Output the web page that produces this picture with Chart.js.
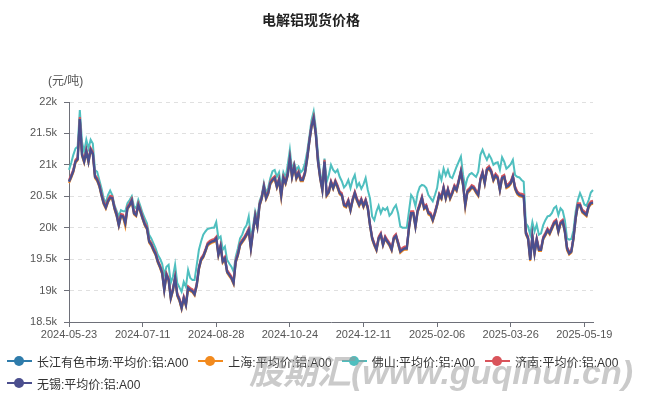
<!DOCTYPE html>
<html>
<head>
<meta charset="utf-8">
<script src="https://cdn.jsdelivr.net/npm/chart.js@4.4.1/dist/chart.umd.min.js"></script>
<style>
    body { margin: 0; background: #fff; }
    #wrap { position: relative; width: 648px; height: 398px; font-family: Arial, "Liberation Sans", "Noto Sans CJK SC", sans-serif; }
    #chart { position: absolute; left: 0; top: 0; }
    #title { position: absolute; left: 0; top: 9px; width: 622px; text-align: center; font-size: 14px; font-weight: bold; color: #222; }
    #unit { position: absolute; left: 48px; top: 71px; font-size: 12px; color: #555; }
    #legend { position: absolute; left: 7px; top: 354px; width: 636px; display: flex; flex-wrap: wrap; row-gap: 8px; }
    .item { display: flex; align-items: center; height: 14px; margin-right: 10px; font-size: 12px; color: #333; white-space: nowrap; }
    .mark { position: relative; width: 25px; height: 14px; margin-right: 5px; }
    .mark .ln { position: absolute; left: 0; top: 6px; width: 25px; height: 2px; }
    .mark .dot { position: absolute; left: 7px; top: 2px; width: 10px; height: 10px; border-radius: 50%; }
    #mark { position: absolute; left: 249px; top: 345px; font-size: 34px; font-weight: bold; font-style: italic; color: rgba(150, 150, 150, 0.5); white-space: nowrap; }
</style>
</head>
<body>
<div id="wrap">
    <canvas id="chart" width="648" height="398"></canvas>
    <div id="title">电解铝现货价格</div>
    <div id="unit">(元/吨)</div>
    <div id="legend"></div>
    <div id="mark">股期汇(www.guqihui.cn)</div>
</div>
<script>
//trading days shown on the category axis
const startDate = '2024-05-23';
const endDate = '2025-05-23';
const holidays = ['2024-06-10', '2024-09-16', '2024-09-17',
    '2024-10-01', '2024-10-02', '2024-10-03', '2024-10-04', '2024-10-07',
    '2025-01-01', '2025-01-28', '2025-01-29', '2025-01-30', '2025-01-31', '2025-02-03', '2025-02-04',
    '2025-04-04', '2025-05-01', '2025-05-02', '2025-05-05'];
const labelStep = 34;

const yMin = 18500;
const yMax = 22000;
const yStep = 500;

const seriesNames = ['长江有色市场:平均价:铝:A00', '上海:平均价:铝:A00', '佛山:平均价:铝:A00', '济南:平均价:铝:A00', '无锡:平均价:铝:A00'];
const seriesColors = ['#2f7cab', '#f28a1e', '#4fbfbf', '#d9545b', '#4b4f8e'];

const changjiang = [
    20740,20820,20910,21060,21100,21740,21170,21060,21230,21060,
    21250,21190,20820,20770,20680,20530,20400,20330,20430,20490,
    20480,20320,20210,20050,20200,20190,20080,20320,20370,20440,
    20240,20210,20370,20270,20160,20060,20000,19790,19740,19660,
    19590,19470,19390,19290,19020,19260,19180,18890,19020,19210,
    18940,18860,18730,18890,18780,19050,19020,19000,18950,19100,
    19360,19500,19550,19640,19740,19770,19790,19800,19840,19580,
    19710,19470,19520,19310,19260,19210,19130,19470,19580,19740,
    19790,19840,19900,19970,19680,19950,20190,20030,20370,20480,
    20660,20480,20560,20720,20770,20800,20660,20770,20520,20800,
    20720,20850,21110,20820,20980,20800,20880,20770,20770,20880,
    21110,21380,21620,21750,21490,21060,20800,20610,21060,20530,
    20580,20730,20640,20740,20660,20560,20530,20370,20350,20430,
    20290,20450,20560,20450,20370,20450,20350,20440,20320,20050,
    19840,19740,19660,19840,19900,19740,19850,19790,19740,19660,
    19840,19880,19760,19630,19660,19680,19680,20000,20240,20240,
    20030,20270,20370,20480,20320,20350,20240,20220,20130,20240,
    20370,20530,20480,20640,20480,20610,20480,20560,20660,20610,
    20750,20900,20690,20370,20580,20610,20660,20640,20580,20530,
    20770,20880,20720,20930,20960,20900,20770,20840,20800,20610,
    20800,20820,20660,20680,20720,20820,20640,20560,20530,20520,
    20510,19920,19840,19500,19870,19600,19820,19660,19660,19840,
    19900,19970,19920,20000,20080,20110,19950,20080,20110,19950,
    19680,19600,19630,19840,20160,20370,20370,20270,20240,20210,
    20350,20400,20410];

const shanghai = [
    20710,20790,20880,21030,21070,21710,21140,21030,21200,21030,
    21220,21160,20790,20740,20650,20500,20370,20300,20400,20460,
    20450,20290,20180,20020,20170,20160,20020,20290,20340,20410,
    20210,20180,20340,20240,20130,20030,19970,19760,19710,19630,
    19560,19440,19360,19260,18990,19230,19150,18860,18990,19180,
    18910,18830,18700,18860,18750,19020,18990,18970,18920,19070,
    19330,19470,19520,19610,19710,19740,19760,19770,19810,19550,
    19680,19440,19490,19280,19230,19180,19100,19440,19550,19710,
    19760,19810,19870,19940,19650,19920,20160,20000,20340,20450,
    20630,20450,20530,20690,20740,20770,20630,20740,20470,20770,
    20690,20820,21080,20790,20950,20770,20850,20740,20740,20850,
    21080,21350,21590,21720,21460,21030,20770,20580,21030,20500,
    20550,20700,20610,20710,20630,20530,20500,20340,20320,20400,
    20260,20420,20530,20420,20340,20420,20320,20410,20290,20020,
    19810,19710,19630,19810,19870,19710,19820,19760,19710,19630,
    19810,19850,19730,19600,19630,19650,19650,19970,20210,20210,
    20000,20240,20340,20450,20290,20320,20210,20190,20100,20210,
    20340,20500,20450,20610,20450,20580,20450,20530,20630,20580,
    20720,20870,20660,20320,20550,20580,20630,20610,20550,20500,
    20740,20850,20690,20900,20930,20870,20740,20810,20770,20580,
    20770,20790,20630,20650,20690,20790,20610,20530,20500,20490,
    20480,19890,19810,19470,19840,19570,19790,19630,19630,19810,
    19870,19940,19890,19970,20050,20080,19920,20050,20080,19920,
    19640,19570,19600,19810,20130,20340,20340,20240,20210,20180,
    20320,20370,20380];

const foshan = [
    20920,21030,21160,21260,21290,21870,21370,21210,21400,21260,
    21400,21340,20920,20890,20760,20630,20470,20390,20520,20590,
    20520,20360,20270,20180,20280,20260,20260,20390,20440,20500,
    20340,20310,20440,20340,20230,20150,20070,19890,19830,19750,
    19670,19570,19510,19430,19250,19380,19410,19120,19220,19410,
    19120,19050,18980,19140,19060,19330,19200,19170,19170,19410,
    19650,19780,19890,19940,19980,19990,20000,20000,20090,19830,
    19860,19650,19700,19490,19430,19380,19300,19540,19670,19830,
    19890,19990,20040,20180,19830,20020,20260,20150,20420,20520,
    20710,20550,20640,20790,20900,20920,20810,20880,20650,20880,
    20790,21000,21240,20920,21030,20920,20970,20880,20920,21030,
    21210,21450,21710,21850,21580,21160,20870,20710,21100,20730,
    20840,21000,20920,20880,20920,20810,20740,20640,20680,20760,
    20630,20760,20840,20650,20710,20620,20690,20790,20600,20470,
    20180,20120,20260,20350,20230,20310,20280,20320,20190,20230,
    20310,20360,20230,20020,20000,20000,20000,20260,20520,20470,
    20340,20550,20650,20680,20670,20630,20520,20470,20420,20520,
    20630,20870,20760,20940,20830,20920,20810,20790,20880,20970,
    21050,21130,20840,20650,20790,20850,20870,20840,20810,20890,
    21160,21240,21150,21080,21160,21100,21000,21030,21040,20920,
    21120,21050,20940,20970,21010,21080,20840,20810,20800,20760,
    20730,20070,20020,19890,20090,19940,20050,19890,19910,20040,
    20120,20180,20190,20230,20310,20340,20200,20310,20270,20120,
    19830,19810,19820,19960,20260,20440,20550,20470,20370,20350,
    20440,20560,20600];

const jinan = [
    20760,20840,20930,21080,21120,21760,21190,21080,21250,21080,
    21270,21210,20840,20790,20700,20550,20420,20350,20450,20510,
    20500,20340,20230,20070,20220,20210,20100,20340,20390,20460,
    20260,20230,20390,20290,20180,20080,20020,19810,19760,19680,
    19610,19490,19410,19310,19040,19280,19200,18910,19040,19230,
    18960,18880,18750,18910,18800,19070,19040,19020,18970,19120,
    19380,19520,19570,19660,19760,19790,19810,19820,19860,19600,
    19730,19490,19540,19330,19280,19230,19150,19490,19600,19760,
    19810,19860,19920,19990,19700,19970,20210,20050,20390,20500,
    20680,20500,20580,20740,20790,20820,20680,20790,20540,20820,
    20740,20870,21130,20840,21000,20820,20900,20790,20790,20900,
    21130,21400,21640,21770,21510,21080,20820,20630,21080,20550,
    20600,20750,20660,20760,20680,20580,20550,20390,20370,20450,
    20310,20470,20580,20470,20390,20470,20370,20460,20340,20070,
    19860,19760,19680,19860,19920,19760,19870,19810,19760,19680,
    19860,19900,19780,19650,19680,19700,19700,20020,20260,20260,
    20050,20290,20390,20500,20340,20370,20260,20240,20150,20260,
    20390,20550,20500,20660,20500,20630,20500,20580,20680,20630,
    20770,20920,20710,20390,20600,20630,20680,20660,20600,20550,
    20790,20900,20740,20950,20980,20920,20790,20860,20820,20630,
    20820,20840,20680,20700,20740,20840,20660,20580,20550,20540,
    20530,19940,19860,19520,19890,19620,19840,19680,19680,19860,
    19920,19990,19940,20020,20100,20130,19970,20100,20130,19970,
    19700,19620,19650,19860,20180,20390,20390,20290,20260,20230,
    20370,20420,20430];

const wuxi = [
    20730,20810,20900,21050,21090,21730,21160,21050,21220,21050,
    21240,21180,20810,20760,20670,20520,20390,20320,20420,20480,
    20470,20310,20200,20040,20190,20180,20070,20310,20360,20430,
    20230,20200,20360,20260,20150,20050,19990,19780,19730,19650,
    19580,19460,19380,19280,19010,19250,19170,18880,19010,19200,
    18930,18850,18720,18880,18770,19040,19010,18990,18940,19090,
    19350,19490,19540,19630,19730,19760,19780,19790,19830,19570,
    19700,19460,19510,19300,19250,19200,19120,19460,19570,19730,
    19780,19830,19890,19960,19670,19940,20180,20020,20360,20470,
    20650,20470,20550,20710,20760,20790,20650,20760,20510,20790,
    20710,20840,21100,20810,20970,20790,20870,20760,20760,20870,
    21100,21370,21610,21740,21480,21050,20790,20600,21050,20520,
    20570,20720,20630,20730,20650,20550,20520,20360,20340,20420,
    20280,20440,20550,20440,20360,20440,20340,20430,20310,20040,
    19830,19730,19650,19830,19890,19730,19840,19780,19730,19650,
    19830,19870,19750,19620,19650,19670,19670,19990,20230,20230,
    20020,20260,20360,20470,20310,20340,20230,20210,20120,20230,
    20360,20520,20470,20630,20470,20600,20470,20550,20650,20600,
    20740,20890,20680,20360,20570,20600,20650,20630,20570,20520,
    20760,20870,20710,20920,20950,20890,20760,20830,20790,20600,
    20790,20810,20650,20670,20710,20810,20630,20550,20520,20510,
    20500,19910,19830,19490,19860,19590,19810,19650,19650,19830,
    19890,19960,19910,19990,20070,20100,19940,20070,20100,19940,
    19670,19590,19620,19830,20150,20360,20360,20260,20230,20200,
    20340,20390,20400];

//builds the list of weekdays between two dates, leaving out holidays
function tradingDays(from, to, skip) {
    const out = [];
    const d = new Date(from + 'T00:00:00Z');
    const end = new Date(to + 'T00:00:00Z');
    while (d <= end) {
        const s = d.toISOString().slice(0, 10);
        const wd = d.getUTCDay();
        if (wd !== 0 && wd !== 6 && !skip.includes(s)) {
            out.push(s);
        }
        d.setUTCDate(d.getUTCDate() + 1);
    }
    return out;
}

const dates = tradingDays(startDate, endDate, holidays);
const seriesData = [changjiang, shanghai, foshan, jinan, wuxi];

const fontFamily = 'Arial, "Liberation Sans", "Noto Sans CJK SC", sans-serif';
Chart.defaults.font.family = fontFamily;

//later series sit on top, like in the original
const datasets = seriesNames.map((name, i) => ({
    label: name,
    data: seriesData[i],
    borderColor: seriesColors[i],
    backgroundColor: seriesColors[i],
    borderWidth: i === seriesNames.length - 1 ? 2.4 : 2,
    pointRadius: 0,
    tension: 0,
    fill: false,
    order: seriesNames.length - i
}));

const axisColor = '#6e7079';

new Chart(document.getElementById('chart'), {
    type: 'line',
    data: {
        labels: dates,
        datasets: datasets
    },
    options: {
        responsive: false,
        animation: false,
        layout: {
            padding: { top: 102, right: 55, bottom: 56, left: 0 }
        },
        plugins: {
            legend: { display: false },
            tooltip: { enabled: false }
        },
        scales: {
            x: {
                offset: false,
                grid: {
                    drawOnChartArea: false,
                    drawTicks: true,
                    tickLength: 5,
                    tickColor: (c) => c.index % labelStep === 0 ? axisColor : 'rgba(0,0,0,0)'
                },
                border: { display: true, color: axisColor },
                ticks: {
                    autoSkip: false,
                    maxRotation: 0,
                    minRotation: 0,
                    padding: 1,
                    color: '#555',
                    font: { size: 11 },
                    callback: function(value, index) {
                        return index % labelStep === 0 ? this.getLabelForValue(value) : '';
                    }
                },
                afterFit: (scale) => { scale.height = 20; }
            },
            y: {
                min: yMin,
                max: yMax,
                grid: {
                    color: '#e0e0e0',
                    tickLength: 5,
                    tickColor: axisColor,
                    tickBorderDash: []
                },
                border: { display: true, color: axisColor, dash: [4, 4] },
                ticks: {
                    stepSize: yStep,
                    padding: 7,
                    color: '#555',
                    font: { size: 11 },
                    callback: (v) => (v / 1000) + 'k'
                },
                afterFit: (scale) => { scale.width = 69; }
            }
        }
    }
});

//legend drawn as html, line with a dot like the original
const legend = document.getElementById('legend');
seriesNames.forEach((name, i) => {
    const item = document.createElement('div');
    item.className = 'item';
    item.innerHTML = '<span class="mark"><span class="ln" style="background:' + seriesColors[i] + '"></span>' +
        '<span class="dot" style="background:' + seriesColors[i] + '"></span></span>' + name;
    legend.appendChild(item);
});
</script>
</body>
</html>
